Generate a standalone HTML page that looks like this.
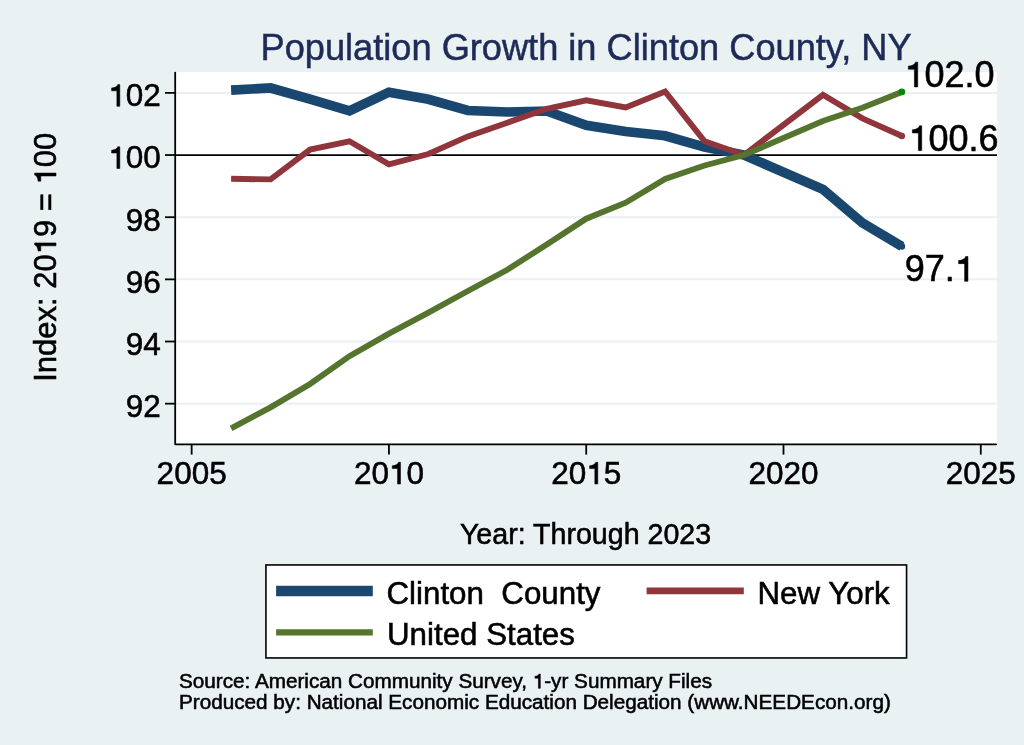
<!DOCTYPE html>
<html><head><meta charset="utf-8"><style>
html,body{margin:0;padding:0;background:#e9f1f2;}
svg{display:block;will-change:transform;}
</style></head><body>
<svg width="1024" height="745" viewBox="0 0 1024 745" font-family="Liberation Sans, sans-serif">
<rect x="0" y="0" width="1024" height="745" fill="#e9f1f2"></rect>
<rect x="175.3" y="72" width="821.7" height="372.3" fill="#ffffff"></rect>
<line x1="176.2" x2="997" y1="403.68" y2="403.68" stroke="#e9f1f2" stroke-width="2"></line>
<line x1="176.2" x2="997" y1="341.52" y2="341.52" stroke="#e9f1f2" stroke-width="2"></line>
<line x1="176.2" x2="997" y1="279.36" y2="279.36" stroke="#e9f1f2" stroke-width="2"></line>
<line x1="176.2" x2="997" y1="217.20" y2="217.20" stroke="#e9f1f2" stroke-width="2"></line>
<line x1="176.2" x2="997" y1="92.88" y2="92.88" stroke="#e9f1f2" stroke-width="2"></line>

<line x1="176" x2="997" y1="155.04" y2="155.04" stroke="#000" stroke-width="1.8"></line>
<polyline points="231.11,90.05 270.56,88.00 310.02,99.20 349.47,110.80 388.93,92.20 428.39,99.30 467.84,110.50 507.30,112.00 546.75,111.00 586.21,125.30 625.67,131.50 665.12,135.80 704.58,147.10 744.03,155.04 822.95,189.30 862.40,222.90 901.86,246.40" fill="none" stroke="#1a476f" stroke-width="9.7" stroke-linejoin="miter"></polyline>
<circle cx="901.86" cy="246.40" r="3.3" fill="#1a476f"></circle>
<polyline points="231.11,178.80 270.56,179.40 310.02,149.60 349.47,141.30 388.93,164.30 428.39,154.00 467.84,136.40 507.30,122.70 546.75,108.80 586.21,100.30 625.67,107.50 665.12,91.50 704.58,141.30 744.03,155.04 822.95,94.80 862.40,118.40 901.86,136.00" fill="none" stroke="#90353b" stroke-width="5.9" stroke-linejoin="miter"></polyline>
<circle cx="901.86" cy="136.00" r="3.2" fill="#90353b"></circle>
<polyline points="231.11,428.40 270.56,407.40 310.02,384.00 349.47,356.20 388.93,333.70 428.39,312.70 467.84,291.00 507.30,269.80 546.75,244.50 586.21,218.75 625.67,202.70 665.12,179.00 704.58,165.50 744.03,155.04 822.95,121.00 862.40,107.80 901.86,91.90" fill="none" stroke="#55752f" stroke-width="5.9" stroke-linejoin="miter"></polyline>
<circle cx="901.86" cy="91.90" r="3.3" fill="#008a00"></circle>
<path d="M175.2,72.6 V444.3 H996.2" fill="none" stroke="#000" stroke-width="1.8" stroke-linejoin="round" stroke-linecap="round"></path>
<g stroke="#000" stroke-width="0.55">
<line x1="165" x2="175.3" y1="403.68" y2="403.68" stroke="#000" stroke-width="1.8"></line>
<text x="160.8" y="417.08" text-anchor="end" font-size="31.5">92</text>
<line x1="165" x2="175.3" y1="341.52" y2="341.52" stroke="#000" stroke-width="1.8"></line>
<text x="160.8" y="354.92" text-anchor="end" font-size="31.5">94</text>
<line x1="165" x2="175.3" y1="279.36" y2="279.36" stroke="#000" stroke-width="1.8"></line>
<text x="160.8" y="292.76" text-anchor="end" font-size="31.5">96</text>
<line x1="165" x2="175.3" y1="217.20" y2="217.20" stroke="#000" stroke-width="1.8"></line>
<text x="160.8" y="230.60" text-anchor="end" font-size="31.5">98</text>
<line x1="165" x2="175.3" y1="155.04" y2="155.04" stroke="#000" stroke-width="1.8"></line>
<text x="160.8" y="168.44" text-anchor="end" font-size="31.5">&#8199;00</text><g><path d="M116.88,168.44 L119.80,168.44 L119.80,146.77 L117.77,146.77 C117.31,148.44 115.47,149.98 111.62,150.21 L111.62,152.98 L116.88,152.98 Z" fill="#000"></path></g>
<line x1="165" x2="175.3" y1="92.88" y2="92.88" stroke="#000" stroke-width="1.8"></line>
<text x="160.8" y="106.28" text-anchor="end" font-size="31.5">&#8199;02</text><g><path d="M116.88,106.28 L119.80,106.28 L119.80,84.61 L117.77,84.61 C117.31,86.28 115.47,87.82 111.62,88.05 L111.62,90.82 L116.88,90.82 Z" fill="#000"></path></g>
<line x1="191.65" x2="191.65" y1="444.3" y2="454.6" stroke="#000" stroke-width="1.8"></line>
<text x="191.65" y="484" text-anchor="middle" font-size="31.5">2005</text>
<line x1="388.93" x2="388.93" y1="444.3" y2="454.6" stroke="#000" stroke-width="1.8"></line>
<text x="388.93" y="484" text-anchor="middle" font-size="31.5">20&#8199;0</text><g><path d="M397.57,484.00 L400.49,484.00 L400.49,462.33 L398.46,462.33 C398.00,464.00 396.15,465.54 392.31,465.77 L392.31,468.54 L397.57,468.54 Z" fill="#000"></path></g>
<line x1="586.21" x2="586.21" y1="444.3" y2="454.6" stroke="#000" stroke-width="1.8"></line>
<text x="586.21" y="484" text-anchor="middle" font-size="31.5">20&#8199;5</text><g><path d="M594.85,484.00 L597.77,484.00 L597.77,462.33 L595.74,462.33 C595.28,464.00 593.43,465.54 589.59,465.77 L589.59,468.54 L594.85,468.54 Z" fill="#000"></path></g>
<line x1="783.49" x2="783.49" y1="444.3" y2="454.6" stroke="#000" stroke-width="1.8"></line>
<text x="783.49" y="484" text-anchor="middle" font-size="31.5">2020</text>
<line x1="980.77" x2="980.77" y1="444.3" y2="454.6" stroke="#000" stroke-width="1.8"></line>
<text x="980.77" y="484" text-anchor="middle" font-size="31.5">2025</text>

<text x="586.1" y="59.8" text-anchor="middle" font-size="36.2" fill="#1e2b57" stroke="#1e2b57" stroke-width="0.5">Population Growth in Clinton County, NY</text>
<text x="904.5" y="86.9" font-size="36" fill="#000">&#8199;02.0</text><g><path d="M914.38,86.90 L917.72,86.90 L917.72,62.13 L915.40,62.13 C914.87,64.05 912.76,65.81 908.37,66.07 L908.37,69.23 L914.38,69.23 Z" fill="#000"></path></g>
<text x="908.5" y="150.6" font-size="36" fill="#000">&#8199;00.6</text><g><path d="M918.38,150.60 L921.72,150.60 L921.72,125.83 L919.40,125.83 C918.87,127.75 916.76,129.51 912.37,129.77 L912.37,132.93 L918.38,132.93 Z" fill="#000"></path></g>
<text x="904.7" y="281.3" font-size="36" fill="#000">97.&#8199;</text><g><path d="M964.61,281.30 L967.95,281.30 L967.95,256.53 L965.63,256.53 C965.10,258.45 962.99,260.21 958.60,260.47 L958.60,263.63 L964.61,263.63 Z" fill="#000"></path></g>
<text transform="translate(56,257.3) rotate(-90)" text-anchor="middle" font-size="31">Index: 20&#8199;9 = &#8199;00</text><g transform="translate(56,257.3) rotate(-90)"><path d="M11.50,0.00 L14.38,0.00 L14.38,-21.33 L12.38,-21.33 C11.92,-19.68 10.11,-18.16 6.32,-17.94 L6.32,-15.21 L11.50,-15.21 Z M81.31,0.00 L84.19,0.00 L84.19,-21.33 L82.19,-21.33 C81.74,-19.68 79.92,-18.16 76.13,-17.94 L76.13,-15.21 L81.31,-15.21 Z" fill="#000"></path></g>
<text x="585.5" y="543.8" text-anchor="middle" font-size="28.6">Year: Through 2023</text>
</g>
<rect x="265.95" y="564.95" width="640.6" height="93" fill="#fff" stroke="#000" stroke-width="1.6"></rect>
<g stroke="#000" stroke-width="0.55">
<line x1="276.1" x2="372.8" y1="591.1" y2="591.1" stroke="#1a476f" stroke-width="10.5"></line>
<line x1="646.6" x2="743.8" y1="590.9" y2="590.9" stroke="#90353b" stroke-width="6.6"></line>
<line x1="276.1" x2="372.8" y1="632.3" y2="632.3" stroke="#55752f" stroke-width="6.3"></line>
<text x="386.5" y="603.8" font-size="31.3" xml:space="preserve">Clinton  County</text>
<text x="757.5" y="604.2" font-size="31.3">New York</text>
<text x="387" y="645.2" font-size="31.3">United States</text>
<text x="179" y="688.3" font-size="20.7">Source: American Community Survey, &#8199;-yr Summary Files</text><g><path d="M538.40,688.30 L540.32,688.30 L540.32,674.06 L538.99,674.06 C538.68,675.16 537.47,676.17 534.94,676.32 L534.94,678.14 L538.40,678.14 Z" fill="#000"></path></g>
<text x="179" y="708.6" font-size="20.7">Produced by: National Economic Education Delegation (www.NEEDEcon.org)</text>
</g>
</svg>

</body></html>
